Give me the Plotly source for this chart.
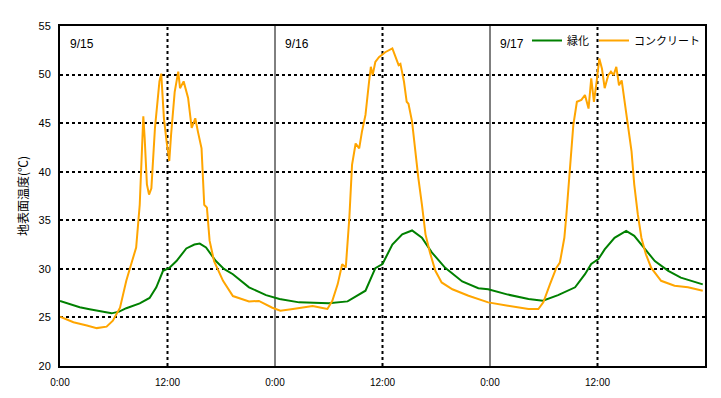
import plotly.graph_objects as go

# ---- data (hours since 9/15 0:00, surface temperature in °C) ----
green_hours = [0, 1, 2.2, 3.3, 4.45, 5.75, 6.6, 7.4, 8.9, 10, 10.75, 11.5, 12.2, 13, 14.1, 15.0, 15.6,
               16.3, 17.4, 18.3, 19.3, 21.1, 23, 24.5, 26.7, 30, 32.1, 33.4, 34.1, 35.2, 36, 37.1,
               38.2, 39.3, 40.4, 41.5, 43, 44.9, 46.7, 47.8, 50, 52.3, 53.9, 55.6, 57.5, 58.6, 59.3,
               60.1, 60.8, 61.9, 63.2, 64.1, 65.3, 66.4, 67.9, 69.3, 71.75]
green_vals = [26.7, 26.4, 26.05, 25.85, 25.65, 25.42, 25.6, 25.95, 26.45, 27.0, 28.1, 29.8, 30.1, 30.8,
              32.1, 32.5, 32.6, 32.2, 30.8, 30.0, 29.45, 28.1, 27.3, 26.9, 26.55, 26.45, 26.65, 27.4,
              27.75, 30.07, 30.5, 32.5, 33.55, 33.95, 33.2, 31.7, 30.1, 28.7, 28.0, 27.9, 27.35, 26.9,
              26.72, 27.3, 28.1, 29.45, 30.5, 31.0, 32.0, 33.2, 33.9, 33.4, 32.0, 30.8, 29.8, 29.1, 28.4]

conc_hours = [0, 1.5, 3, 4.1, 5.2, 5.9, 6.7, 7.4, 8, 8.5, 8.9, 9.3, 9.45, 9.7, 9.94, 10.2, 10.6, 11.1,
              11.3, 11.6, 11.9, 12.2, 12.4, 12.8, 13.2, 13.4, 13.8, 14.3, 14.7, 15.1, 15.4, 15.8, 16.1,
              16.4, 16.7, 17.2, 18.2, 19.3, 21.1, 22.2, 23.7, 24.6, 26, 28.2, 29.3, 29.85, 30.4, 31,
              31.5, 31.9, 32.3, 32.6, 33, 33.4, 33.7, 34.1, 34.5, 34.7, 34.9, 35.2, 35.6, 36.3, 37.1,
              37.4, 37.8, 38.0, 38.4, 38.7, 38.9, 39.3, 39.7, 40.0, 40.4, 40.8, 41.3, 41.9, 42.6, 43.8,
              45.6, 47.8, 50, 52.3, 53.4, 53.95, 54.7, 55.4, 55.8, 56.3, 56.5, 56.9, 57.3, 57.7, 58.2,
              58.6, 59, 59.3, 59.6, 59.9, 60.2, 60.5, 60.8, 61.2, 61.5, 61.8, 62.1, 62.4, 62.7, 63,
              63.4, 63.8, 64.1, 64.5, 64.9, 65.4, 66, 67.1, 68.6, 70.1, 71.75]
conc_vals = [25.08, 24.5, 24.16, 23.9, 24.05, 24.67, 26.0, 28.77, 30.65, 32.2, 36.6, 45.7, 43.5, 38.7,
             37.65, 38.3, 44.5, 49.3, 50.1, 45.5, 43.1, 41.1, 43.8, 48.2, 50.3, 48.6, 49.3, 47.6, 44.5,
             45.5, 44.1, 42.4, 36.6, 36.3, 32.9, 30.8, 28.77, 27.2, 26.65, 26.7, 26.0, 25.7, 25.87,
             26.17, 25.97, 25.87, 26.72, 28.43, 30.48, 30.13, 35.26, 40.7, 42.9, 42.4, 44.1, 45.85,
             49.26, 50.8, 49.94, 51.3, 51.8, 52.3, 52.7, 52.0, 50.97, 51.1, 49.26, 47.2, 47.0, 45.16,
             41.4, 39.36, 36.6, 33.55, 31.67, 29.8, 28.6, 27.9, 27.23, 26.55, 26.2, 25.87, 25.87,
             26.55, 28.43, 30.1, 30.65, 33.2, 35.26, 39.7, 44.8, 47.2, 47.4, 47.9, 46.5, 49.6, 47.2,
             49.26, 51.65, 50.6, 48.6, 49.94, 50.3, 49.94, 50.8, 48.9, 49.4, 47.4, 44.5, 42.1, 38.7,
             35.6, 33.2, 31.5, 30.1, 28.77, 28.26, 28.1, 27.75]

series_names = ["緑化", "コンクリート"]
x_tick_vals = [0, 12, 24, 36, 48, 60]
x_tick_text = ["0:00", "12:00", "0:00", "12:00", "0:00", "12:00"]
day_labels = ["9/15", "9/16", "9/17"]
day_starts = [0, 24, 48]
noon_hours = [12, 36, 60]
midnight_hours = [24, 48]

FONT = "Liberation Sans, Noto Sans CJK JP, sans-serif"

fig = go.Figure()
fig.add_trace(go.Scatter(x=green_hours, y=green_vals, mode="lines", name=series_names[0],
                         line=dict(color="#008000", width=2)))
fig.add_trace(go.Scatter(x=conc_hours, y=conc_vals, mode="lines", name=series_names[1],
                         line=dict(color="#FFA500", width=2)))

for h in noon_hours:
    fig.add_shape(type="line", xref="x", yref="paper", x0=h, x1=h, y0=0, y1=1,
                  line=dict(color="black", width=2, dash="dot"), layer="below")
for h in midnight_hours:
    fig.add_shape(type="line", xref="x", yref="paper", x0=h, x1=h, y0=0, y1=1,
                  line=dict(color="black", width=1), layer="below")

for lbl, d in zip(day_labels, day_starts):
    fig.add_annotation(x=d, y=1, xref="x", yref="paper", text=lbl, showarrow=False,
                       xanchor="left", yanchor="top", xshift=8, yshift=-9,
                       font=dict(family=FONT, size=12, color="black"))

fig.update_layout(
    width=721, height=398,
    margin=dict(l=52, r=24, t=16, b=40),
    paper_bgcolor="white", plot_bgcolor="white",
    font=dict(family=FONT, size=11, color="black"),
    showlegend=True,
    legend=dict(orientation="h", x=1.0, xanchor="right", y=1.0, yanchor="top",
                bgcolor="rgba(0,0,0,0)", font=dict(family=FONT, size=11),
                itemwidth=30, tracegroupgap=0),
)
fig.update_xaxes(range=[0, 72], tickvals=x_tick_vals, ticktext=x_tick_text, showgrid=False,
                 zeroline=False, showline=True, linecolor="black", linewidth=2, mirror=True,
                 ticks="", ticklabelstandoff=6, tickfont=dict(family=FONT, size=10))
fig.update_yaxes(range=[20, 55], dtick=5, showgrid=True, gridcolor="black", gridwidth=2,
                 griddash="dot", zeroline=False, showline=True, linecolor="black", linewidth=2,
                 mirror=True, ticks="", ticklabelstandoff=5, tickfont=dict(family=FONT, size=11),
                 title=dict(text="地表面温度(℃)", font=dict(family="Noto Sans CJK JP", size=12),
                            standoff=7))

fig.write_html("out.html")
